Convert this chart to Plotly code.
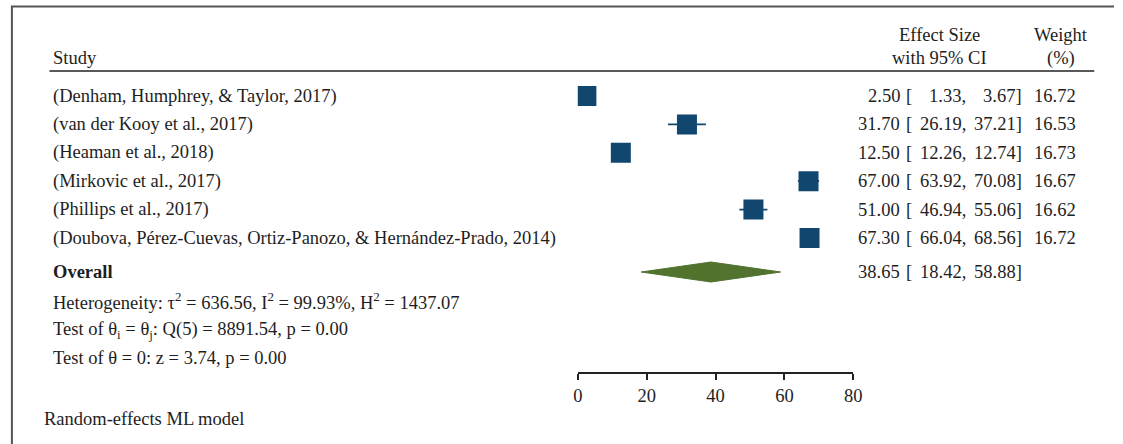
import plotly.graph_objects as go

# Study-level estimates
studies = [
    "(Denham, Humphrey, & Taylor, 2017)",
    "(van der Kooy et al., 2017)",
    "(Heaman et al., 2018)",
    "(Mirkovic et al., 2017)",
    "(Phillips et al., 2017)",
    "(Doubova, Pérez-Cuevas, Ortiz-Panozo, & Hernández-Prado, 2014)",
]
effect = [2.50, 31.70, 12.50, 67.00, 51.00, 67.30]
ci_low = [1.33, 26.19, 12.26, 63.92, 46.94, 66.04]
ci_high = [3.67, 37.21, 12.74, 70.08, 55.06, 68.56]
weight = [16.72, 16.53, 16.73, 16.67, 16.62, 16.72]

# Pooled estimate
overall_est = 38.65
overall_low = 18.42
overall_high = 58.88

heterogeneity = "Heterogeneity: τ<sup>2</sup> = 636.56, I<sup>2</sup> = 99.93%, H<sup>2</sup> = 1437.07"
test_q = "Test of θ<sub>i</sub> = θ<sub>j</sub>: Q(5) = 8891.54, p = 0.00"
test_z = "Test of θ = 0: z = 3.74, p = 0.00"
model_note = "Random-effects ML model"

x_ticks = [0, 20, 40, 60, 80]

# ---- layout constants (pixels) ----
W, H = 1123, 444
FONT = "Liberation Serif, Times New Roman, serif"
FS = 18.5
TXT = "#1e1e1e"
BOX = "#11466e"
DIAMOND = "#52732e"

row0, row_step = 96, 28.4
rows_y = [row0 + i * row_step for i in range(len(studies))]
overall_y = 272
axis_y = 373


def px(x):
    return x / W


fig = go.Figure()

# confidence interval whiskers
for lo, hi, y in zip(ci_low, ci_high, rows_y):
    fig.add_trace(go.Scatter(x=[lo, hi], y=[y, y], mode="lines",
                             line=dict(color=BOX, width=1.8),
                             hoverinfo="skip", showlegend=False))

# study markers
fig.add_trace(go.Scatter(x=effect, y=rows_y, mode="markers",
                         marker=dict(symbol="square", size=20, color=BOX,
                                     line=dict(width=0)),
                         showlegend=False))

# pooled diamond
half_h = 10
fig.add_trace(go.Scatter(
    x=[overall_low, overall_est, overall_high, overall_est, overall_low],
    y=[overall_y, overall_y - half_h, overall_y, overall_y + half_h, overall_y],
    mode="lines", fill="toself", fillcolor=DIAMOND,
    line=dict(color=DIAMOND, width=1), showlegend=False))

ann = []


def text(x, y, s, xanchor="left", bold=False):
    ann.append(dict(x=px(x), y=y, xref="paper", yref="y", text=f"<b>{s}</b>" if bold else s,
                    showarrow=False, xanchor=xanchor, yanchor="middle", borderpad=0,
                    font=dict(family=FONT, size=FS, color=TXT)))


# headers
text(48, 58, "Study")
text(946, 35, "Effect Size", "center")
text(946, 58, "with 95% CI", "center")
text(1069, 35, "Weight", "center")
text(1069, 58, "(%)", "center")

# study rows
for name, e, lo, hi, w, y in zip(studies, effect, ci_low, ci_high, weight, rows_y):
    text(48, y, name)
    text(907, y, f"{e:.2f}", "right")
    text(911, y, "[")
    text(974, y, f"{lo:.2f},", "right")
    text(1031, y, f"{hi:.2f}]", "right")
    text(1086, y, f"{w:.2f}", "right")

# pooled row and statistics
text(48, overall_y, "Overall", bold=True)
text(907, overall_y, f"{overall_est:.2f}", "right")
text(911, overall_y, "[")
text(974, overall_y, f"{overall_low:.2f},", "right")
text(1031, overall_y, f"{overall_high:.2f}]", "right")
text(48, 301, heterogeneity)
text(48, 330, test_q)
text(48, 358, test_z)
text(38, 419, model_note)

shapes = [
    # header rule
    dict(type="line", xref="paper", yref="y", x0=px(45), x1=px(1103), y0=71, y1=71,
         line=dict(color="#222", width=1.5)),
    # outer frame (top and left)
    dict(type="line", xref="paper", yref="y", x0=px(6), x1=1, y0=6.5, y1=6.5,
         line=dict(color="#555", width=2)),
    dict(type="line", xref="paper", yref="y", x0=px(7), x1=px(7), y0=6, y1=H,
         line=dict(color="#555", width=2)),
]

fig.update_layout(
    width=W, height=H,
    margin=dict(l=0, r=0, t=0, b=0),
    paper_bgcolor="white", plot_bgcolor="white",
    annotations=ann, shapes=shapes,
    xaxis=dict(domain=[px(580), px(859)], range=[0, 80], tickvals=x_ticks,
               showline=True, linecolor="#222", linewidth=1.5,
               ticks="outside", ticklen=6, tickcolor="#222", tickwidth=1.5,
               showgrid=False, zeroline=False, anchor="free",
               position=1 - axis_y / H,
               tickfont=dict(family=FONT, size=FS, color=TXT)),
    yaxis=dict(domain=[0, 1], range=[H, 0], visible=False,
               showgrid=False, zeroline=False),
    showlegend=False,
)

fig.write_html("out.html")
